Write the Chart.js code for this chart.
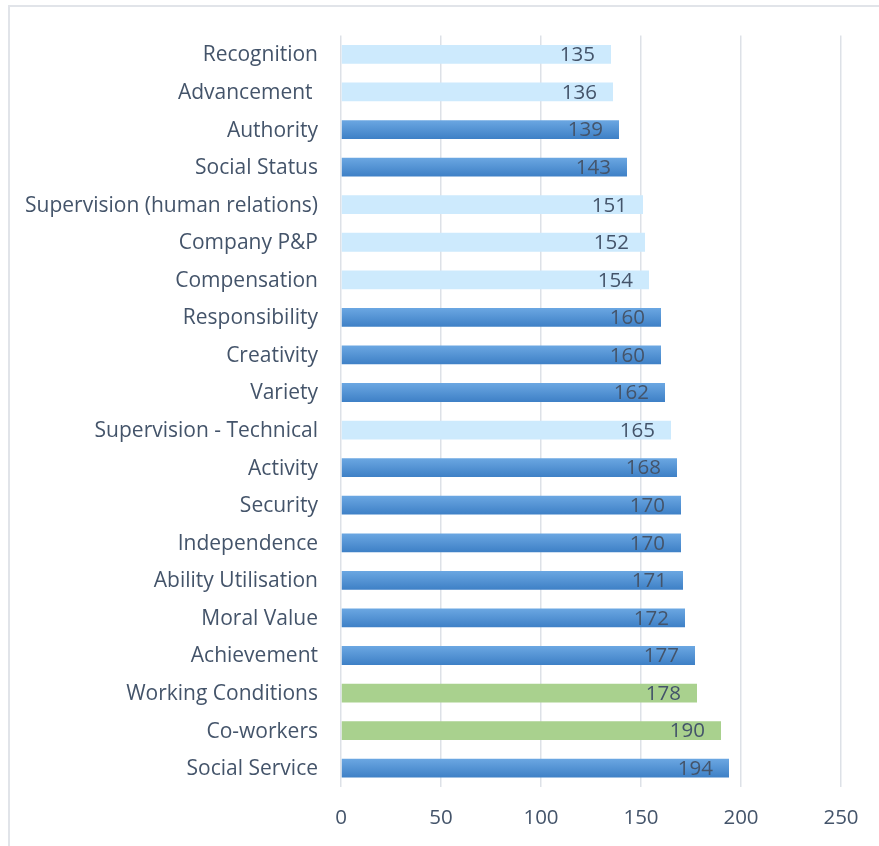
<!DOCTYPE html>
<html>
<head>
<meta charset="utf-8">
<script src="https://cdn.jsdelivr.net/npm/chart.js@4.4.1/dist/chart.umd.min.js"></script>
<style>
  html, body { margin: 0; padding: 0; background: #ffffff; overflow: hidden; }
  #frame { position: absolute; left: 8px; top: 5px; width: 1000px; height: 1000px;
           border-left: 2px solid #e1e4e9; border-top: 2px solid #e1e4e9; }
  #wrap { position: absolute; left: 0; top: 0; width: 879px; height: 846px; }
</style>
</head>
<body>
<div id="frame"></div>
<div id="wrap"><canvas id="chart" width="879" height="846"></canvas></div>
<script>
// Job factor scores, top to bottom
const categories = [
  'Recognition', 'Advancement ', 'Authority', 'Social Status',
  'Supervision (human relations)', 'Company P&P', 'Compensation',
  'Responsibility', 'Creativity', 'Variety', 'Supervision - Technical',
  'Activity', 'Security', 'Independence', 'Ability Utilisation',
  'Moral Value', 'Achievement', 'Working Conditions', 'Co-workers',
  'Social Service'
];
const scores = [135, 136, 139, 143, 151, 152, 154, 160, 160, 162, 165,
                168, 170, 170, 171, 172, 177, 178, 190, 194];
// colour group of each bar
const groups = ['light', 'light', 'blue', 'blue', 'light', 'light', 'light',
                'blue', 'blue', 'blue', 'light', 'blue', 'blue', 'blue', 'blue',
                'blue', 'blue', 'green', 'green', 'blue'];
const xTicks = [0, 50, 100, 150, 200, 250];

const TEXT = '#44546a';
const FONT = '"Open Sans"';

function barFill(ctx) {
  const g = groups[ctx.dataIndex];
  if (g === 'light') return '#cdeafd';
  if (g === 'green') return '#a9d18e';
  const chart = ctx.chart;
  const ys = chart.scales.y;
  if (!ys || ys.top === undefined) return '#5b9bd5';
  const cy = ys.getPixelForValue(ctx.dataIndex);
  const half = (ys.height / categories.length) * 0.25;
  const grad = chart.ctx.createLinearGradient(0, cy - half, 0, cy + half);
  grad.addColorStop(0, '#6ba7e2');
  grad.addColorStop(1, '#3e80c6');
  return grad;
}

// value labels drawn just inside the end of each bar
const valueLabels = {
  id: 'valueLabels',
  afterDatasetsDraw(chart) {
    const c = chart.ctx;
    const meta = chart.getDatasetMeta(0);
    c.save();
    c.font = '20.5px ' + FONT;
    c.fillStyle = TEXT;
    c.textAlign = 'right';
    c.textBaseline = 'middle';
    meta.data.forEach((bar, i) => {
      c.fillText(String(scores[i]), bar.x - 16, bar.y + 1);
    });
    c.restore();
  }
};

new Chart(document.getElementById('chart'), {
  type: 'bar',
  data: {
    labels: categories,
    datasets: [{
      data: scores,
      backgroundColor: barFill,
      borderWidth: 0,
      barPercentage: 0.5,
      categoryPercentage: 1.0
    }]
  },
  options: {
    indexAxis: 'y',
    responsive: false,
    animation: false,
    events: [],
    layout: { padding: { top: 34, right: 38, left: 0, bottom: 0 } },
    plugins: { legend: { display: false }, tooltip: { enabled: false } },
    scales: {
      x: {
        min: 0, max: 250,
        afterBuildTicks(scale) { scale.ticks = xTicks.map(v => ({ value: v })); },
        afterFit(scale) { scale.height = 59; },
        grid: { color: '#dde1e7', lineWidth: 1.5, drawTicks: false },
        border: { display: false },
        ticks: { color: TEXT, font: { family: FONT, size: 20.5 }, padding: 19 }
      },
      y: {
        afterFit(scale) { scale.width = 341; },
        grid: { display: false, drawTicks: false },
        border: { display: false },
        ticks: { color: TEXT, font: { family: FONT, size: 21 }, padding: 23,
                 labelOffset: 1, autoSkip: false }
      }
    }
  },
  plugins: [valueLabels]
});
</script>
</body>
</html>
